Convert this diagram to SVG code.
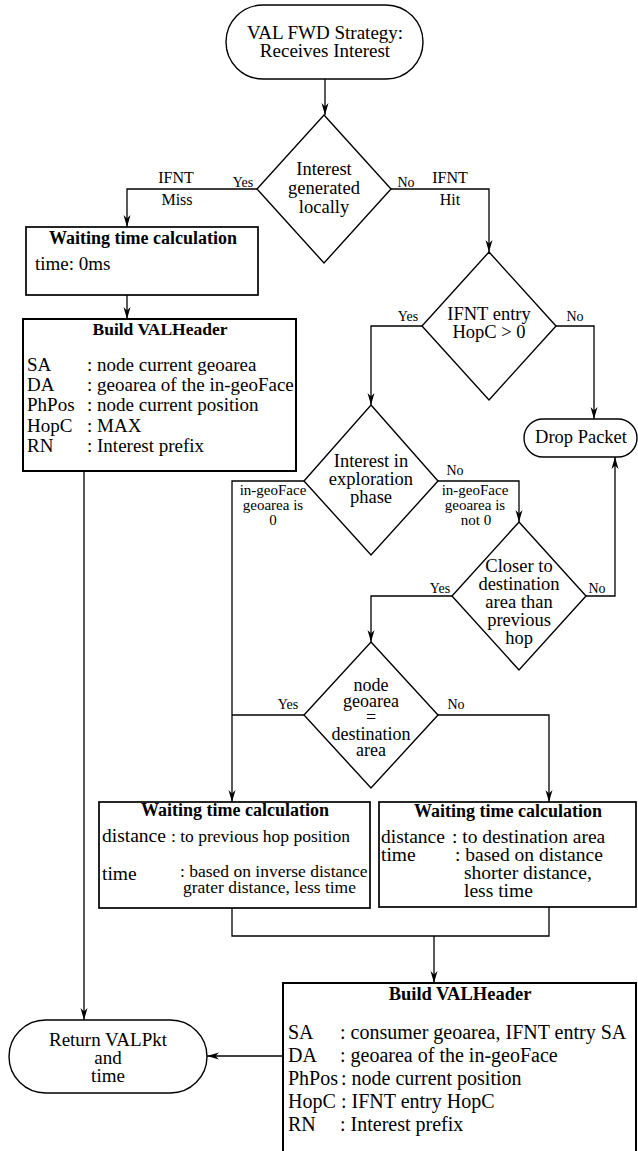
<svg xmlns="http://www.w3.org/2000/svg" width="638" height="1151" viewBox="0 0 638 1151">
<style>
text{font-family:"Liberation Serif","Times New Roman",serif;fill:#000}
.c{text-anchor:middle}
.t{font-size:19px}
.d{font-size:18.5px}
.yn{font-size:14px}
.lb{font-size:16px}
.gl{font-size:15px}
.b{font-weight:bold}
.shape{fill:#fff;stroke:#000;stroke-width:1.4}
.box{fill:#fff;stroke:#000;stroke-width:1.7}
.hb{fill:#fff;stroke:#000;stroke-width:2}
.ln{fill:none;stroke:#000;stroke-width:1.3}
.ar{marker-end:url(#ah)}
</style>
<defs>
<marker id="ah" viewBox="0 0 12 8" refX="12" refY="4" markerWidth="12" markerHeight="8" markerUnits="userSpaceOnUse" orient="auto"><path d="M0,0.5 L12,4 L0,7.5 L3.5,4 Z" fill="#000"/></marker>
</defs>
<rect width="638" height="1151" fill="#fff"/>

<g id="connectors">
<path class="ln ar" d="M325,79 V115"/>
<path class="ln ar" d="M257,189 H127 V227"/>
<path class="ln ar" d="M391,189 H489 V252"/>
<path class="ln ar" d="M127,295 V319"/>
<path class="ln ar" d="M84,471 V1020"/>
<path class="ln ar" d="M422,326 H371 V405"/>
<path class="ln ar" d="M556,326 H594 V419"/>
<path class="ln ar" d="M304,481 H232 V802"/>
<path class="ln ar" d="M438,481 H519 V522"/>
<path class="ln ar" d="M586,596 H615 V457"/>
<path class="ln ar" d="M452,596 H371 V642"/>
<path class="ln" d="M304,715 H232"/>
<path class="ln ar" d="M438,715 H549 V802"/>
<path class="ln" d="M232,908 V936 H549 V907"/>
<path class="ln ar" d="M434,936 V983"/>
<path class="ln ar" d="M283,1056 H207"/>
<g id="labels">
<text class="yn c" x="243" y="187">Yes</text>
<text class="lb c" x="176" y="183">IFNT</text>
<text class="lb c" x="177" y="205">Miss</text>
<text class="yn c" x="406" y="187">No</text>
<text class="lb c" x="450" y="183">IFNT</text>
<text class="lb c" x="450" y="205">Hit</text>
<text class="yn c" x="408" y="321">Yes</text>
<text class="yn c" x="575" y="321">No</text>
<text class="gl c" x="273" y="495">in-geoFace</text>
<text class="gl c" x="273" y="510">geoarea is</text>
<text class="gl c" x="273" y="525">0</text>
<text class="yn c" x="455" y="475">No</text>
<text class="gl c" x="475" y="495">in-geoFace</text>
<text class="gl c" x="475" y="510">geoarea is</text>
<text class="gl c" x="476" y="525">not 0</text>
<text class="yn c" x="440" y="593">Yes</text>
<text class="yn c" x="597" y="593">No</text>
<text class="yn c" x="288" y="709">Yes</text>
<text class="yn c" x="456" y="709">No</text>
</g>
</g>

<g id="start">
<rect class="shape" x="226" y="5" width="197" height="74" rx="37"/>
<text class="t c" x="325" y="39">VAL FWD Strategy:</text>
<text class="t c" x="325" y="57">Receives Interest</text>
</g>

<g id="dec-local">
<polygon class="shape" points="324,115 391,189 324,263 257,189"/>
<text class="d c" x="324" y="175">Interest</text>
<text class="d c" x="324" y="194">generated</text>
<text class="d c" x="324" y="213">locally</text>
</g>

<g id="wait-zero">
<rect class="box" x="26" y="227" width="232" height="68"/>
<text class="b c" style="font-size:18px" x="143" y="244">Waiting time calculation</text>
<text class="t" x="35" y="270">time: 0ms</text>
</g>

<g id="header-local">
<rect class="hb" x="23" y="319" width="273" height="152"/>
<text class="b c" style="font-size:17.5px" x="160" y="335">Build VALHeader</text>
<text class="t" x="27" y="371">SA</text><text class="t" x="87" y="371">: node current geoarea</text>
<text class="t" x="27" y="391">DA</text><text class="t" x="87" y="391">: geoarea of the in-geoFace</text>
<text class="t" x="27" y="411">PhPos</text><text class="t" x="87" y="411">: node current position</text>
<text class="t" x="27" y="432">HopC</text><text class="t" x="87" y="432">: MAX</text>
<text class="t" x="27" y="452">RN</text><text class="t" x="87" y="452">: Interest prefix</text>
</g>

<g id="dec-hopc">
<polygon class="shape" points="489,252 556,326 489,400 422,326"/>
<text class="d c" x="489" y="320">IFNT entry</text>
<text class="d c" x="489" y="338">HopC &gt; 0</text>
</g>

<g id="drop">
<rect class="shape" x="524" y="419" width="113" height="38" rx="19"/>
<text class="c" style="font-size:18.5px" x="581" y="443">Drop Packet</text>
</g>

<g id="dec-explore">
<polygon class="shape" points="371,405 438,481 371,555 304,481"/>
<text class="d c" x="371" y="467">Interest in</text>
<text class="d c" x="371" y="485">exploration</text>
<text class="d c" x="371" y="503">phase</text>
</g>

<g id="dec-closer">
<polygon class="shape" points="519,522 586,596 519,670 452,596"/>
<text class="d c" x="519" y="572">Closer to</text>
<text class="d c" x="519" y="590">destination</text>
<text class="d c" x="519" y="608">area than</text>
<text class="d c" x="519" y="626">previous</text>
<text class="d c" x="519" y="644">hop</text>
</g>

<g id="dec-dest">
<polygon class="shape" points="371,642 438,715 371,788 304,715"/>
<text class="c" style="font-size:18px" x="371" y="691">node</text>
<text class="c" style="font-size:18px" x="371" y="707">geoarea</text>
<text class="c" style="font-size:18px" x="371" y="723">=</text>
<text class="c" style="font-size:18px" x="371" y="740">destination</text>
<text class="c" style="font-size:18px" x="371" y="756">area</text>
</g>

<g id="wait-inverse">
<rect class="box" x="99" y="802" width="271" height="106"/>
<text class="b c" style="font-size:18px" x="235" y="816">Waiting time calculation</text>
<text style="font-size:19.5px" x="102" y="842">distance</text>
<text style="font-size:17.5px" x="171" y="842">: to previous hop position</text>
<text style="font-size:19.5px" x="102" y="880">time</text>
<text style="font-size:17.5px" x="180" y="877">: based on inverse distance</text>
<text style="font-size:17.5px" x="183" y="893">grater distance, less time</text>
</g>

<g id="wait-direct">
<rect class="box" x="379" y="802" width="257" height="105"/>
<text class="b c" style="font-size:18px" x="508" y="817">Waiting time calculation</text>
<text style="font-size:19.5px" x="381" y="843">distance</text>
<text style="font-size:19.5px" x="452" y="843">: to destination area</text>
<text style="font-size:19.5px" x="381" y="861">time</text>
<text style="font-size:19.5px" x="455" y="861">: based on distance</text>
<text style="font-size:19.5px" x="464" y="879">shorter distance,</text>
<text style="font-size:19.5px" x="464" y="897">less time</text>
</g>

<g id="header-remote">
<rect class="hb" x="283" y="983" width="353" height="172"/>
<text class="b c" style="font-size:18.5px" x="460" y="1000">Build VALHeader</text>
<text style="font-size:20px" x="288" y="1039">SA</text><text style="font-size:20px" x="340" y="1039">: consumer geoarea, IFNT entry SA</text>
<text style="font-size:20px" x="288" y="1062">DA</text><text style="font-size:20px" x="340" y="1062">: geoarea of the in-geoFace</text>
<text style="font-size:20px" x="288" y="1085">PhPos</text><text style="font-size:20px" x="341" y="1085">: node current position</text>
<text style="font-size:20px" x="288" y="1108">HopC</text><text style="font-size:20px" x="341" y="1108">: IFNT entry HopC</text>
<text style="font-size:20px" x="288" y="1131">RN</text><text style="font-size:20px" x="340" y="1131">: Interest prefix</text>
</g>

<g id="return">
<rect class="shape" x="9" y="1020" width="198" height="73" rx="36.5"/>
<text class="t c" x="108" y="1046">Return VALPkt</text>
<text class="t c" x="108" y="1064">and</text>
<text class="t c" x="108" y="1082">time</text>
</g>
</svg>
